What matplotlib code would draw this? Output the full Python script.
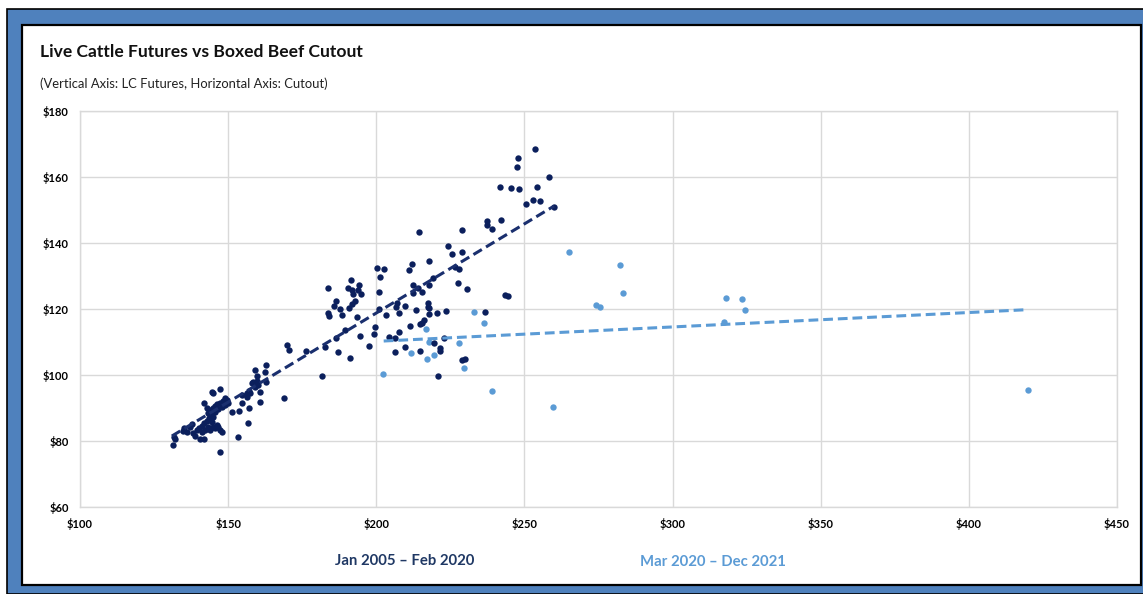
import matplotlib
matplotlib.use("Agg")
import matplotlib.pyplot as plt
from matplotlib.patches import Rectangle

# ---------------- data ----------------
pre_x = [131.3, 132.1, 131.8, 134.7, 135.1, 136.0, 137.2, 137.7, 138.3, 138.9,
         139.4, 140.3, 141.1, 141.7, 142.8, 143.7, 144.5, 145.0, 140.5, 141.7,
         141.1, 142.2, 143.3, 143.9, 145.0, 145.6, 146.7, 147.3, 147.9, 146.2,
         143.9, 144.8, 145.6, 146.4, 147.3, 148.2, 149.0, 149.6, 150.1, 149.0,
         147.9, 146.7, 145.6, 144.5, 143.3, 142.8, 144.5, 144.8, 147.1, 142.0,
         151.2, 153.7, 154.6, 156.9, 156.7, 153.3, 147.1, 156.3, 156.9, 157.4,
         156.5, 154.6, 158.0, 158.5, 159.7, 160.2, 159.1, 160.8, 160.8, 162.8,
         159.1, 159.7, 162.8, 162.6, 169.8, 170.4, 168.9,
         176.4, 181.8, 182.8, 186.5, 187.2, 189.5, 191.2,
         200.2, 202.6, 201.3, 211.0, 211.9, 191.5, 183.7, 190.6, 191.8, 194.3,
         193.8, 194.7, 192.1, 200.9, 212.5, 212.5, 214.2, 215.3, 186.5, 185.8,
         187.7, 190.9, 192.7, 191.9, 200.9, 207.1, 206.7, 209.6, 207.8, 203.4,
         183.7, 183.9, 188.4, 193.5, 213.4, 214.3,
         217.7, 219.2, 227.5, 230.6, 217.3, 217.3, 217.7, 217.7, 220.5, 223.6,
         236.8, 215.4, 216.0, 214.9, 211.5, 207.5, 199.7, 199.3, 194.6, 204.2,
         206.4, 197.4, 206.4, 209.8, 214.9, 219.6, 221.4, 221.4, 223.0, 228.9,
         230.1, 220.8, 243.6, 244.5,
         253.4, 247.9, 247.5, 258.3, 241.7, 245.4, 248.3, 254.2, 250.4, 252.9,
         255.4, 260.1, 237.2, 237.2, 239.1, 242.0, 228.8, 224.3, 225.4, 228.9,
         217.7, 226.6, 228.0]
pre_y = [78.8, 80.5, 81.1, 83.1, 83.8, 82.8, 84.3, 85.2, 82.3, 81.5,
         83.3, 83.8, 84.5, 85.5, 86.1, 86.9, 85.8, 87.4, 80.5, 80.5,
         82.8, 83.3, 84.1, 83.3, 84.3, 83.8, 84.1, 83.3, 82.8, 84.8,
         89.4, 89.9, 90.6, 91.2, 91.4, 92.2, 92.9, 92.4, 91.4, 90.9,
         90.4, 89.6, 88.9, 88.4, 88.6, 89.9, 94.9, 94.5, 95.7, 91.4,
         88.9, 89.1, 91.4, 89.9, 85.4, 81.1, 76.8, 94.5, 95.2, 94.6,
         93.4, 93.9, 97.5, 98.0, 98.3, 97.0, 96.5, 95.0, 91.9, 97.8,
         101.5, 99.7, 103.0, 101.0, 109.1, 107.6, 93.0,
         107.3, 99.7, 108.5, 111.2, 107.0, 113.6, 105.2,
         132.3, 132.0, 129.6, 131.8, 133.6, 128.8, 126.5, 126.3, 125.8, 127.3,
         125.8, 124.5, 124.5, 125.2, 127.3, 124.8, 126.3, 125.3, 122.5, 121.0,
         120.0, 120.4, 122.5, 121.6, 119.9, 121.7, 120.5, 120.9, 118.9, 118.3,
         118.7, 117.9, 118.3, 117.7, 119.6, 143.4,
         127.3, 129.3, 128.0, 126.0, 121.7, 120.7, 120.2, 118.4, 118.7, 119.5,
         119.2, 115.8, 116.7, 115.5, 114.8, 112.9, 114.6, 112.3, 111.8, 111.6,
         111.1, 108.8, 106.9, 108.4, 107.4, 109.6, 108.3, 107.4, 111.1, 104.4,
         104.8, 99.7, 124.2, 123.9,
         168.5, 165.8, 163.0, 159.9, 157.1, 156.8, 156.5, 157.1, 151.7, 153.0,
         152.8, 151.0, 146.8, 145.5, 144.3, 146.9, 144.0, 139.2, 136.7, 137.2,
         134.5, 132.8, 132.2]

post_x = [202.4, 232.9, 236.3, 216.8, 217.7, 211.7, 217.1, 219.6, 228.0, 229.7,
          239.1, 259.7, 265.0, 274.0, 275.4, 282.4, 283.2, 317.9, 323.3, 324.3,
          317.3, 419.8]
post_y = [100.4, 119.2, 115.8, 114.0, 109.9, 106.8, 104.8, 106.2, 109.8, 102.2,
          95.2, 90.2, 137.3, 121.2, 120.5, 133.3, 124.8, 123.4, 123.1, 119.7,
          116.0, 95.5]

# trend lines
pre_trend_x = [131.0, 260.0]
pre_trend_y = [81.5, 151.2]
post_trend_x = [202.5, 419.8]
post_trend_y = [110.3, 119.8]

x_ticks = [100, 150, 200, 250, 300, 350, 400, 450]
y_ticks = [60, 80, 100, 120, 140, 160, 180]

title = "Live Cattle Futures vs Boxed Beef Cutout"
subtitle = "(Vertical Axis: LC Futures, Horizontal Axis: Cutout)"
label_pre = "Jan 2005 \u2013 Feb 2020"
label_post = "Mar 2020 \u2013 Dec 2021"

DARK = "#0b1f5c"
DARK_LINE = "#1a2f6e"
LIGHT = "#5b9bd5"
FRAME_BLUE = "#4f81bd"

plt.rcParams["font.family"] = ["Lato", "DejaVu Sans"]

W, H = 1143, 594
fig = plt.figure(figsize=(W / 100, H / 100), dpi=100)
fig.patch.set_facecolor("white")

def fx(px):
    return px / W

def fy(py):
    return 1 - py / H

# frame: blue band + white panel (drawn beneath the axes)
fig.patches.append(Rectangle((fx(7), 0), fx(W + 5) - fx(7), fy(9) - 0,
                             transform=fig.transFigure, facecolor=FRAME_BLUE,
                             edgecolor="black", linewidth=1.2, zorder=-3))
fig.patches.append(Rectangle((fx(22), fy(585)), fx(1141) - fx(22), fy(25) - fy(585),
                             transform=fig.transFigure, facecolor="white",
                             edgecolor="black", linewidth=1.6, zorder=-2))

ax = fig.add_axes([fx(80), fy(507), fx(1117) - fx(80), fy(111) - fy(507)])
ax.set_zorder(1)
ax.set_facecolor("white")
ax.set_xlim(100, 450)
ax.set_ylim(60, 180)
ax.set_xticks(x_ticks)
ax.set_yticks(y_ticks)
ax.set_xticklabels([f"${v}" for v in x_ticks], fontsize=8, fontweight="bold")
ax.set_yticklabels([f"${v}" for v in y_ticks], fontsize=8, fontweight="bold")
ax.tick_params(length=0, pad=8)
ax.grid(True, color="#d9d9d9", linewidth=1.0)
ax.set_axisbelow(True)
for s in ax.spines.values():
    s.set_color("#d9d9d9")
    s.set_linewidth(1.0)

ax.scatter(post_x, post_y, s=21, color=LIGHT, zorder=3, linewidths=0)
ax.scatter(pre_x, pre_y, s=21, color=DARK, zorder=4, linewidths=0)
ax.plot(pre_trend_x, pre_trend_y, color=DARK_LINE, linestyle=(0, (3.2, 1.6)),
        linewidth=2.2, zorder=5)
ax.plot(post_trend_x, post_trend_y, color=LIGHT, linestyle=(0, (3.2, 1.6)),
        linewidth=2.2, zorder=5)

fig.text(fx(40), fy(52), title, fontsize=12.6, fontweight="bold", color="#111111",
         ha="left", va="center")
fig.text(fx(40), fy(84), subtitle, fontsize=9.4, color="#222222",
         ha="left", va="center")
fig.text(fx(405), fy(561), label_pre, fontsize=10.7, fontweight="bold", color="#1f3864",
         ha="center", va="center")
fig.text(fx(713), fy(562), label_post, fontsize=10.7, fontweight="bold", color=LIGHT,
         ha="center", va="center")

fig.savefig("out.png", dpi=100)
